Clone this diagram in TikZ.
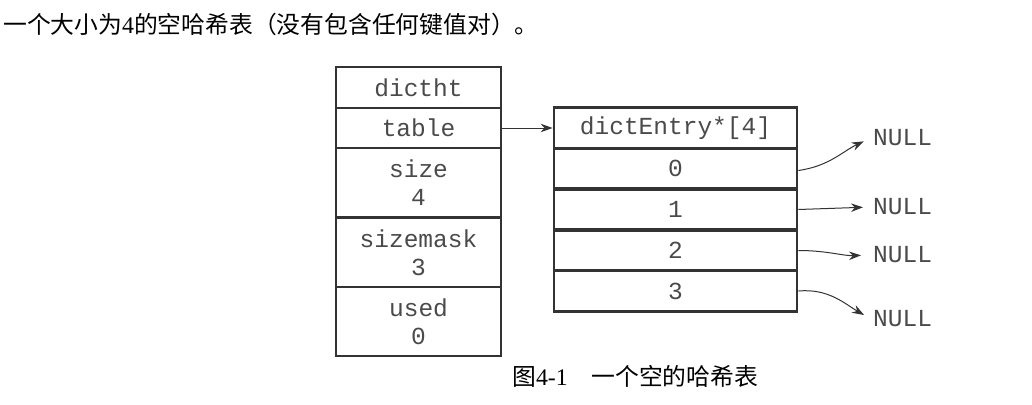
\documentclass[tikz,border=0pt]{standalone}
\usepackage{fontspec}
\setmainfont{Liberation Serif}
\setmonofont{Liberation Mono}
\newfontfamily\cjk{Noto Sans CJK SC}
\usepackage{xcolor}
\usetikzlibrary{arrows.meta}

\definecolor{boxline}{HTML}{333333}
\definecolor{boxtext}{HTML}{4A4A4A}

\begin{document}
\begin{tikzpicture}[x=1pt, y=-1pt,
        field/.style={draw=boxline, line width=2.8pt, rectangle, minimum width=165pt, inner sep=0pt, align=center, text=boxtext, font=\ttfamily\fontsize{24.5}{28}\selectfont},
        slot/.style={field, minimum width=243pt, minimum height=40.6pt},
        nullval/.style={text=boxtext, font=\ttfamily\fontsize{24.5}{28}\selectfont, inner sep=2pt, anchor=west},
        arrow/.style={-{Stealth[length=12pt, width=8.5pt]}, draw=boxline, line width=1pt},
        caption/.style={font=\fontsize{23.8}{28}\selectfont, anchor=west, inner sep=0pt}
    ]
    \useasboundingbox (0,0) rectangle (1032,404);

    % --- Title ---
    \node[caption] (title) at (3, 24) {{\cjk 一个大小为}4{\cjk 的空哈希表（没有包含任何键值对）。}};

    % --- dictht ---
    \node[field, minimum height=41pt] (dictht) at (418.5, 87.5) {dictht};
    \node[field, minimum height=40pt] (table) at (418.5, 128) {table};
    \node[field, minimum height=69.5pt] (size) at (418.5, 182.75) {size\\4};
    \node[field, minimum height=69.5pt] (sizemask) at (418.5, 252.25) {sizemask\\3};
    \node[field, minimum height=69pt] (used) at (418.5, 321.5) {used\\0};

    % --- dictEntry array ---
    \node[slot] (entry) at (675.5, 128) {dictEntry*[4]};
    \node[slot] (e0) at (675.5, 168.5) {0};
    \node[slot] (e1) at (675.5, 209.5) {1};
    \node[slot] (e2) at (675.5, 250.5) {2};
    \node[slot] (e3) at (675.5, 291) {3};

    % --- NULL pointers ---
    \node[nullval] (null0) at (871, 138) {NULL};
    \node[nullval] (null1) at (871, 207) {NULL};
    \node[nullval] (null2) at (871, 255) {NULL};
    \node[nullval] (null3) at (871, 319) {NULL};

    % --- Arrows ---
    \draw[arrow] (table.east) -- (entry.west);
    \draw[arrow, shorten >=8pt] ([yshift=-2pt]e0.east) to[out=8, in=205] (null0.west);
    \draw[arrow, shorten >=8pt] (e1.east) -- (null1.west);
    \draw[arrow, shorten >=10pt] (e2.east) to[out=0, in=182] (null2.west);
    \draw[arrow, shorten >=8pt] (e3.east) to[out=5, in=150] (null3.west);

    % --- Caption ---
    \node[caption] (figcap) at (512, 376) {{\cjk 图}4-1{\cjk 　一个空的哈希表}};

\end{tikzpicture}
\end{document}
